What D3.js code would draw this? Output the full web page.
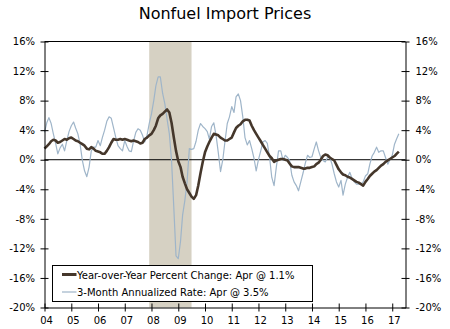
<!DOCTYPE html>
<html>
<head>
<meta charset="utf-8">
<script src="https://cdn.jsdelivr.net/npm/d3@7"></script>
<style>
  html, body { margin: 0; padding: 0; background: #fff; }
  svg { display: block; font-family: "DejaVu Sans", Verdana, sans-serif; }
</style>
</head>
<body>
<svg id="chart" width="450" height="329"></svg>
<script>
// Monthly series, Jan 2004 through Apr 2017 (percent)
const startYear = 2004;

const yoyChange = [
  // 2004
  1.5, 1.8, 2.1, 2.5, 2.7, 2.6, 2.3, 2.4, 2.6, 2.8, 2.7, 2.9,
  // 2005
  3.0, 2.8, 2.6, 2.5, 2.3, 2.1, 1.9, 1.5, 1.4, 1.7, 1.5, 1.2,
  // 2006
  1.1, 1.0, 0.8, 0.8, 1.2, 1.7, 2.3, 2.8, 2.7, 2.7, 2.8, 2.7,
  // 2007
  2.8, 2.7, 2.6, 2.5, 2.6, 2.5, 2.4, 2.2, 2.3, 2.8, 3.0, 3.3,
  // 2008
  3.5, 4.0, 4.6, 5.6, 6.0, 6.2, 6.5, 6.8, 6.4, 5.0, 3.0, 1.2,
  // 2009
  -0.2, -1.0, -2.3, -3.2, -4.0, -4.5, -5.0, -5.3, -4.8, -3.5, -1.8, -0.3,
  // 2010
  1.0, 1.8, 2.4, 3.0, 3.5, 3.4, 3.3, 3.0, 2.8, 2.6, 2.6, 2.8,
  // 2011
  3.0, 3.7, 4.3, 4.6, 4.8, 5.2, 5.4, 5.4, 5.3, 4.6, 4.0, 3.5,
  // 2012
  3.0, 2.5, 2.0, 1.5, 1.0, 0.5, 0.2, -0.3, -0.1, 0.0, 0.1, 0.1,
  // 2013
  0.0, -0.1, -0.5, -0.9, -1.0, -1.0, -1.0, -1.1, -1.2, -1.2, -1.1, -1.1,
  // 2014
  -1.0, -0.9, -0.6, -0.4, 0.0, 0.5, 0.7, 0.6, 0.3, 0.1, -0.1, -0.7,
  // 2015
  -1.3, -1.7, -2.0, -2.1, -2.3, -2.4, -2.6, -2.8, -3.0, -3.1, -3.3, -3.5,
  // 2016
  -3.0, -2.6, -2.2, -1.9, -1.6, -1.4, -1.1, -0.8, -0.6, -0.3, -0.1, 0.1,
  // 2017
  0.3, 0.5, 0.8, 1.1
];

const threeMonthRate = [
  // 2004
  3.7, 5.0, 5.7, 4.9, 3.5, 2.2, 0.8, 1.6, 2.1, 1.2, 2.6, 3.8,
  // 2005
  4.6, 5.1, 4.3, 3.5, 2.1, -0.1, -1.5, -2.3, -1.0, 1.2, 1.7, 1.7,
  // 2006
  2.6, 1.9, 3.0, 4.0, 5.2, 5.8, 5.6, 4.3, 3.0, 1.9, 1.5, 1.2,
  // 2007
  2.6, 1.8, 1.2, 1.1, 2.5, 3.7, 4.2, 4.0, 3.3, 2.4, 3.3, 4.9,
  // 2008
  6.2, 8.0, 10.0, 11.2, 11.2, 9.0, 7.6, 5.5, 3.5, -0.1, -6.5, -13.0,
  // 2009
  -13.4, -11.0, -7.5, -5.5, -3.0, 1.5, 1.4, 1.5, 2.5, 4.0, 4.9, 4.5,
  // 2010
  4.2, 3.8, 2.8, 4.5, 5.0, 3.3, 1.0, -1.6, 0.0, 2.5, 4.9, 5.8,
  // 2011
  7.2, 6.4, 8.5, 8.9, 8.0, 5.8, 3.0, 2.0, 2.6, 1.5, 0.2, -1.5,
  // 2012
  0.0, 1.2, 2.4, 2.6, 2.2, 0.3, -2.4, -3.5, -1.0, 1.2, 1.2, -0.1,
  // 2013
  0.6, 0.3, -0.1, -2.1, -3.0, -3.5, -4.2, -3.0, -1.8, -0.5, 0.6, 0.3,
  // 2014
  0.4, 1.5, 2.4, 1.2, 0.3, -0.1, -0.3, 0.3, 0.3, -0.6, -1.9, -3.0,
  // 2015
  -3.7, -2.8, -4.8, -3.3, -2.4, -1.7, -2.5, -3.0, -3.3, -3.3, -3.3, -3.0,
  // 2016
  -2.2, -1.9, -0.6, 0.5, 1.0, 1.7, 1.0, 1.2, 1.2, 0.3, -0.6, 0.0,
  // 2017
  0.6, 2.1, 2.8, 3.5
];

const yTicks = [-20, -16, -12, -8, -4, 0, 4, 8, 12, 16];
const xTickYears = d3.range(2004, 2018);
// Recession: Dec 2007 through Jun 2009
const recession = [new Date(2007, 11, 1), new Date(2009, 6, 1)];
const legendLabels = [
  "Year-over-Year Percent Change: Apr @ 1.1%",
  "3-Month Annualized Rate: Apr @ 3.5%"
];

const colors = { yoy: "#45372b", rate: "#9fb5c9", band: "#d6d1c3", axis: "#000" };

const svg = d3.select("#chart");

const x = d3.scaleTime()
  .domain([new Date(2004, 0, 1), new Date(2017, 6, 1)])
  .range([44.5, 405.5]);
const y = d3.scaleLinear().domain([-20, 16]).range([307.5, 41.5]);

const dateOf = i => new Date(startYear, i, 1);
const yoyData = yoyChange.map((v, i) => ({ date: dateOf(i), value: v }));
const rateData = threeMonthRate.map((v, i) => ({ date: dateOf(i), value: v }));

// Title
svg.append("text")
  .attr("x", 225).attr("y", 18.5)
  .attr("text-anchor", "middle")
  .attr("font-size", 16)
  .attr("fill", "#000")
  .text("Nonfuel Import Prices");

// Recession shading
svg.append("rect")
  .attr("x", x(recession[0]))
  .attr("y", y(16))
  .attr("width", x(recession[1]) - x(recession[0]))
  .attr("height", y(-20) - y(16))
  .attr("fill", colors.band);

// Top border and zero line
svg.append("line")
  .attr("x1", x.range()[0]).attr("x2", x.range()[1])
  .attr("y1", y(16)).attr("y2", y(16))
  .attr("stroke", colors.axis).attr("stroke-width", 1);
svg.append("line")
  .attr("x1", x.range()[0]).attr("x2", x.range()[1])
  .attr("y1", y(0)).attr("y2", y(0))
  .attr("stroke", colors.axis).attr("stroke-width", 1);

// Lines
const line = d3.line().x(d => x(d.date)).y(d => y(d.value)).curve(d3.curveLinear);

svg.append("path")
  .datum(rateData)
  .attr("d", line)
  .attr("fill", "none")
  .attr("stroke", colors.rate)
  .attr("stroke-width", 1.2)
  .attr("stroke-linejoin", "round");

svg.append("path")
  .datum(yoyData)
  .attr("d", line)
  .attr("fill", "none")
  .attr("stroke", colors.yoy)
  .attr("stroke-width", 2.6)
  .attr("stroke-linejoin", "round");

// Axes
const pct = d => d + "%";
function styleAxis(g, crossAttr, crossVal) {
  g.select(".domain").attr("stroke", colors.axis);
  g.selectAll(".tick line").attr("stroke", colors.axis).attr(crossAttr, crossVal);
  g.selectAll("text").attr("fill", "#000").attr("font-size", 10)
    .attr("font-family", "'DejaVu Sans', Verdana, sans-serif");
}

svg.append("g")
  .attr("transform", `translate(${x.range()[0]},0)`)
  .call(d3.axisLeft(y).tickValues(yTicks).tickFormat(pct).tickSizeInner(4).tickSizeOuter(0).tickPadding(5.5))
  .call(g => styleAxis(g, "x1", 4));

svg.append("g")
  .attr("transform", `translate(${x.range()[1]},0)`)
  .call(d3.axisRight(y).tickValues(yTicks).tickFormat(pct).tickSizeInner(4).tickSizeOuter(0).tickPadding(6))
  .call(g => styleAxis(g, "x1", -4));

svg.append("g")
  .attr("transform", `translate(0,${y(-20)})`)
  .call(d3.axisBottom(x)
    .tickValues(xTickYears.map(yr => new Date(yr, 0, 1)))
    .tickFormat(d3.timeFormat("%y"))
    .tickSizeInner(4).tickSizeOuter(0).tickPadding(5.5))
  .call(g => styleAxis(g, "y1", -4))
  .call(g => g.selectAll(".tick text").attr("dx", 1.5));

// Legend
const legend = svg.append("g").attr("transform", "translate(52.5,265.5)");
legend.append("rect")
  .attr("width", 260).attr("height", 36)
  .attr("fill", "#fff").attr("stroke", "#000").attr("stroke-width", 1);

const legendItems = [
  { label: legendLabels[0], color: colors.yoy, width: 3 },
  { label: legendLabels[1], color: colors.rate, width: 1.2 }
];
legendItems.forEach((item, i) => {
  const cy = 9 + i * 17.5;
  legend.append("line")
    .attr("x1", 9.5).attr("x2", 24)
    .attr("y1", cy).attr("y2", cy)
    .attr("stroke", item.color).attr("stroke-width", item.width);
  legend.append("text")
    .attr("x", 24.5).attr("y", cy + 4)
    .attr("font-size", 10).attr("fill", "#000")
    .text(item.label);
});
</script>
</body>
</html>
